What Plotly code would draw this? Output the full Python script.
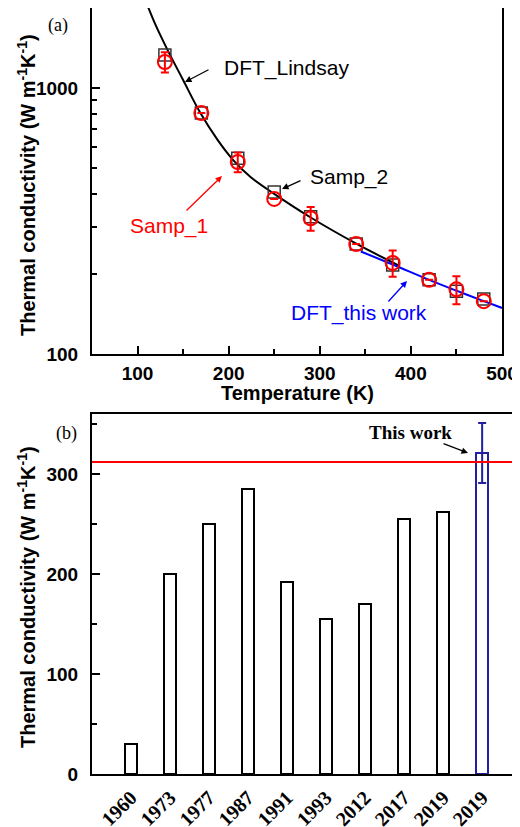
import plotly.graph_objects as go

# ---------------- data: panel (a) ----------------
samp1_T = [130, 170, 210, 250, 290, 340, 380, 420, 450, 480]
samp1_k = [1253, 805, 527, 383, 324, 259, 220, 190, 175, 158]
samp1_err = [110, 0, 45, 0, 33, 0, 25, 0, 21, 0]

samp2_T = [130, 170, 210, 250, 290, 340, 380, 420, 450, 480]
samp2_k = [1330, 805, 545, 407, 328, 259, 216, 190, 172, 161]

lindsay_T = [110, 120, 133, 150, 169, 188, 205, 224, 250, 290, 340, 388]
lindsay_k = [2080, 1720, 1389, 1072, 805, 637, 536, 463, 400, 326, 260, 214]

thiswork_T = [345, 380, 420, 450, 480, 500]
thiswork_k = [243, 217, 190, 173, 158, 149]

# ---------------- data: panel (b) ----------------
years = ["1960", "1973", "1977", "1987", "1991", "1993", "2012", "2017", "2019", "2019"]
lit_k = [30, 200, 250, 285, 192, 155, 170, 255, 262]
this_k = 321
this_err = 30
this_line = 312

# the page body has an 8px default margin, so the figure is offset by (8, 8)
OFF = 8
W, H = 520 - OFF, 827 - OFF
def fx(x): return (x - OFF) / W
def fy(y): return 1 - (y - OFF) / H

BLUE_DARK = "#2020a0"
SANS = "Liberation Sans, Arial, sans-serif"
SERIF = "Liberation Serif, Times New Roman, serif"

fig = go.Figure()

# panel (a)
fig.add_trace(go.Scatter(x=lindsay_T, y=lindsay_k, mode="lines", line=dict(color="black", width=2, shape="spline"),
                         xaxis="x", yaxis="y", showlegend=False))
fig.add_trace(go.Scatter(x=thiswork_T, y=thiswork_k, mode="lines", line=dict(color="#0000ff", width=2, shape="spline"),
                         xaxis="x", yaxis="y", showlegend=False))
fig.add_trace(go.Scatter(x=samp2_T, y=samp2_k, mode="markers",
                         marker=dict(symbol="square-open", size=12, color="#333333", line=dict(width=1.5)),
                         xaxis="x", yaxis="y", showlegend=False))
fig.add_trace(go.Scatter(x=samp1_T, y=samp1_k, mode="markers",
                         marker=dict(symbol="circle-open", size=14, color="#ff0000", line=dict(width=2)),
                         error_y=dict(type="data", array=samp1_err, color="#ff0000", thickness=2, width=4),
                         xaxis="x", yaxis="y", showlegend=False))

# panel (b)
xpos = list(range(len(years)))
fig.add_trace(go.Bar(x=xpos[:len(lit_k)], y=lit_k, width=0.3,
                     marker=dict(color="white", line=dict(color="black", width=2)),
                     xaxis="x2", yaxis="y2", showlegend=False))
fig.add_trace(go.Bar(x=[xpos[-1]], y=[this_k], width=0.3,
                     marker=dict(color="white", line=dict(color=BLUE_DARK, width=2)),
                     error_y=dict(type="data", array=[this_err], color=BLUE_DARK, thickness=2, width=4),
                     xaxis="x2", yaxis="y2", showlegend=False))

axis_common = dict(showline=True, linecolor="black", linewidth=2, mirror=True, ticks="inside",
                   tickcolor="black", tickwidth=2, ticklen=8, showgrid=False, zeroline=False, automargin=False)

fig.update_layout(
    width=W, height=H, margin=dict(l=0, r=0, t=0, b=0),
    plot_bgcolor="white", paper_bgcolor="white", bargap=0,
    xaxis=dict(domain=[fx(92), fx(502)], anchor="y", range=[50, 500], tickvals=[100, 200, 300, 400, 500],
               tickfont=dict(family=SANS, size=19, color="black", weight="bold"), ticklabelstandoff=1,
               minor=dict(ticks="inside", ticklen=5, tickwidth=2, tickcolor="black", tickvals=[150, 250, 350, 450]),
               **axis_common),
    yaxis=dict(domain=[fy(354), fy(8)], anchor="x", type="log", range=[2, 3.301],
               tickvals=[100, 1000], ticktext=["100", "1000"],
               tickfont=dict(family=SANS, size=19, color="black", weight="bold"), ticklabelstandoff=8,
               minor=dict(ticks="inside", ticklen=5, tickwidth=2, tickcolor="black",
                          tickvals=[200, 300, 400, 500, 600, 700, 800, 900]),
               **axis_common),
    xaxis2=dict(domain=[fx(92), 1.0], anchor="y2", range=[-1, 9.97], tickvals=xpos, ticktext=years,
                tickangle=-45, tickfont=dict(family=SERIF, size=20, color="black", weight="bold"),
                showline=True, linecolor="black", linewidth=2, mirror=True, ticks="", showgrid=False,
                zeroline=False, ticklabelstandoff=2, automargin=False),
    yaxis2=dict(domain=[fy(774), fy(414)], anchor="x2", range=[0, 360], tickvals=[0, 100, 200, 300],
                tickfont=dict(family=SANS, size=19, color="black", weight="bold"), ticklabelstandoff=8,
                minor=dict(ticks="inside", ticklen=5, tickwidth=2, tickcolor="black", tickvals=[50, 150, 250, 350]),
                **axis_common),
)

# red reference line in (b)
fig.add_shape(type="line", xref="x2 domain", yref="y2", x0=0, x1=1, y0=this_line, y1=this_line,
              line=dict(color="#ff0000", width=2))

ytitle = "Thermal conductivity (W m<sup>-1</sup>K<sup>-1</sup>)"
ann = [
    dict(x=fx(26), y=fy(185), text=ytitle, textangle=-90, font=dict(family=SANS, size=20, color="black", weight="bold")),
    dict(x=fx(26), y=fy(597), text=ytitle, textangle=-90, font=dict(family=SANS, size=20, color="black", weight="bold")),
    dict(x=fx(297), y=fy(393), text="Temperature (K)", font=dict(family=SANS, size=20, color="black", weight="bold")),
    dict(x=fx(58), y=fy(25), text="(a)", font=dict(family=SERIF, size=18, color="black")),
    dict(x=fx(66), y=fy(433), text="(b)", font=dict(family=SERIF, size=18, color="black")),
    dict(x=fx(286), y=fy(68), text="DFT_Lindsay", font=dict(family=SANS, size=21, color="black")),
    dict(x=fx(349), y=fy(177), text="Samp_2", font=dict(family=SANS, size=21, color="black")),
    dict(x=fx(169), y=fy(226), text="Samp_1", font=dict(family=SANS, size=21, color="#ff0000")),
    dict(x=fx(359), y=fy(313), text="DFT_this work", font=dict(family=SANS, size=21, color="#0000ff")),
    dict(x=fx(410), y=fy(432), text="This work", font=dict(family=SERIF, size=19, color="black", weight="bold")),
]
for a in ann:
    a.update(xref="paper", yref="paper", showarrow=False, xanchor="center", yanchor="middle")
    fig.add_annotation(**a)

# arrows (tail -> head in pixels)
arrows = [
    ((210, 69), (185, 82), "black"),
    ((302, 180), (282, 189), "black"),
    ((185, 212), (222, 176), "#ff0000"),
    ((387, 303), (407, 281), "#0000ff"),
    ((442, 443), (468, 453), "black"),
]
for (tx, ty), (hx, hy), c in arrows:
    fig.add_annotation(xref="paper", yref="paper", x=fx(hx), y=fy(hy), ax=tx - hx, ay=ty - hy,
                       axref="pixel", ayref="pixel", text="", showarrow=True, arrowhead=2,
                       arrowsize=1, arrowwidth=1.3, arrowcolor=c)

fig.write_html("out.html")
